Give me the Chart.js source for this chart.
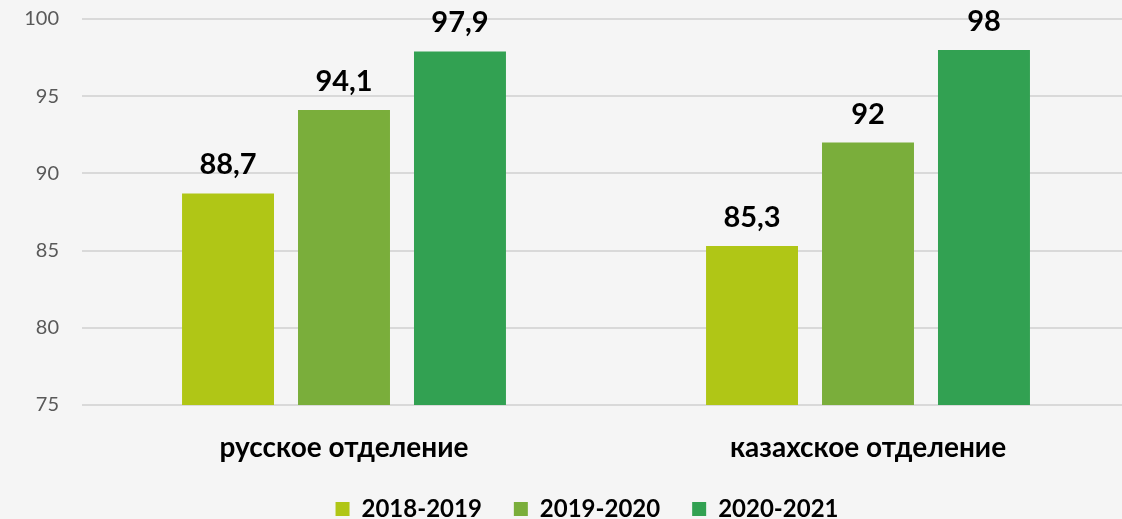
<!DOCTYPE html>
<html>
<head>
<meta charset="utf-8">
<script src="https://cdn.jsdelivr.net/npm/chart.js"></script>
<style>
    html, body { margin: 0; padding: 0; background: #f5f5f5; overflow: hidden; }
    #wrap { width: 1130px; height: 519px; }
</style>
</head>
<body>
<div id="wrap"><canvas id="chart"></canvas></div>
<script>
    // --- Data ---
    const categories = ['русское отделение', 'казахское отделение'];
    const seriesNames = ['2018-2019', '2019-2020', '2020-2021'];
    const values2018 = [88.7, 85.3];
    const values2019 = [94.1, 92];
    const values2020 = [97.9, 98];
    const yTicks = [75, 80, 85, 90, 95, 100];

    const colors = ['#b0c616', '#7aae3b', '#32a152'];
    const fontFamily = 'Lato, "Open Sans", "Liberation Sans", sans-serif';

    // simple value labels above bars (no datalabels plugin available)
    const valueLabels = {
        id: 'valueLabels',
        afterDatasetsDraw(chart) {
            const ctx = chart.ctx;
            ctx.save();
            ctx.font = 'bold 29px ' + fontFamily;
            ctx.fillStyle = '#000';
            ctx.textAlign = 'center';
            ctx.textBaseline = 'alphabetic';
            chart.data.datasets.forEach((ds, i) => {
                chart.getDatasetMeta(i).data.forEach((bar, j) => {
                    const txt = String(ds.data[j]).replace('.', ',');
                    ctx.fillText(txt, bar.x, bar.y - 19);
                });
            });
            ctx.restore();
        }
    };

    // nudge the legend a bit right of centre and down, like the original
    const legendNudge = {
        id: 'legendNudge',
        afterLayout(chart) {
            const lg = chart.legend;
            if (!lg) return;
            lg.left += 22;
            lg.right += 22;
            lg.top += 2;
            lg.bottom += 2;
        }
    };

    const seriesData = [values2018, values2019, values2020];

    new Chart(document.getElementById('chart'), {
        type: 'bar',
        data: {
            labels: categories,
            datasets: seriesNames.map((name, i) => ({
                label: name,
                data: seriesData[i],
                backgroundColor: colors[i],
                categoryPercentage: 0.664,
                barPercentage: 0.793
            }))
        },
        options: {
            responsive: true,
            maintainAspectRatio: false,
            animation: false,
            layout: { padding: { top: 2, left: 0, right: 0, bottom: -10 } },
            plugins: {
                legend: {
                    position: 'bottom',
                    labels: {
                        boxWidth: 14,
                        boxHeight: 14,
                        padding: 32,
                        color: '#000',
                        font: { family: fontFamily, size: 24, weight: 'bold' }
                    }
                },
                tooltip: { enabled: false }
            },
            scales: {
                x: {
                    afterFit(scale) { scale.height = 58; },
                    grid: { display: false, drawTicks: false },
                    border: { display: false },
                    ticks: {
                        color: '#000',
                        padding: 26,
                        font: { family: fontFamily, size: 28, weight: 'bold' }
                    }
                },
                y: {
                    min: 75,
                    max: 100,
                    afterFit(scale) { scale.width = 82; },
                    afterBuildTicks(scale) { scale.ticks = yTicks.map(v => ({ value: v })); },
                    grid: {
                        color: '#d9d9d9',
                        lineWidth: 2,
                        drawTicks: true,
                        tickLength: 16,
                        tickColor: 'rgba(0,0,0,0)'
                    },
                    border: { display: false },
                    ticks: {
                        color: '#595959',
                        padding: 7,
                        font: { family: fontFamily, size: 20 }
                    }
                }
            }
        },
        plugins: [valueLabels, legendNudge]
    });
</script>
</body>
</html>
